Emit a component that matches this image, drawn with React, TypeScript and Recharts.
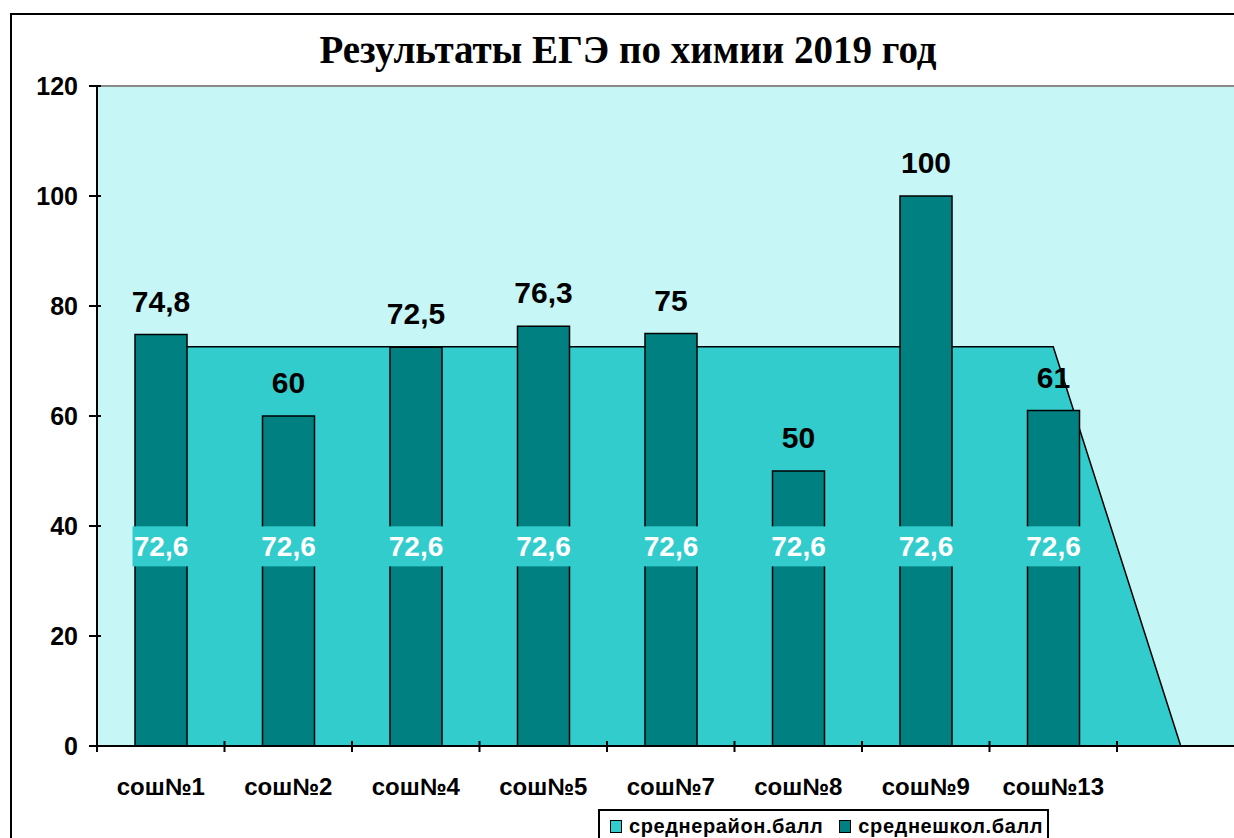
import { ComposedChart, Area, Bar, XAxis, YAxis, CartesianGrid, ReferenceLine, LabelList, Legend } from "recharts";

// categories (last one is the empty slot where the district area drops to 0)
const schools = ["сош№1", "сош№2", "сош№4", "сош№5", "сош№7", "сош№8", "сош№9", "сош№13", ""];
const schoolScores = [74.8, 60, 72.5, 76.3, 75, 50, 100, 61, null];
const districtScores = [72.6, 72.6, 72.6, 72.6, 72.6, 72.6, 72.6, 72.6, 0];
const yTicks = [0, 20, 40, 60, 80, 100, 120];
const seriesNames = ["среднерайон.балл", "среднешкол.балл"];

const data = schools.map((name, i) => ({
  name,
  school: schoolScores[i],
  district: districtScores[i],
}));

const PLOT_BG = "#c6f6f5";
const AREA_FILL = "#33cccc";
const BAR_FILL = "#008080";
const SANS = "'Liberation Sans', Arial, sans-serif";

const fmt = (v: any) => (v == null ? "" : String(v).replace(".", ","));

const XTick = (props: any) => {
  const { x, y, payload, index, visibleTicksCount } = props;
  const half = payload?.offset ?? 0;
  const last = index === visibleTicksCount - 1;
  return (
    <g>
      <line x1={x - half} x2={x - half} y1={y - 5} y2={y + 6} stroke="#000" strokeWidth={2} />
      {last && <line x1={x + half} x2={x + half} y1={y - 5} y2={y + 6} stroke="#000" strokeWidth={2} />}
      <text x={x} y={y + 49} textAnchor="middle" fontSize={24} fontWeight="bold" fontFamily={SANS} fill="#000">
        {payload.value}
      </text>
    </g>
  );
};

// tick mark crosses the axis a little, like the Excel original
const YTick = (props: any) => {
  const { x, y, payload } = props;
  return (
    <g>
      <line x1={x + 11} x2={x + 23} y1={y} y2={y} stroke="#000" strokeWidth={2} />
      <text x={x} y={y} dy="0.36em" textAnchor="end" fontSize={25} fontWeight="bold" fontFamily={SANS} fill="#000">
        {payload.value}
      </text>
    </g>
  );
};

// white value in a turquoise box, half way up the district area
const DistrictLabel = (props: any) => {
  const { viewBox, value } = props;
  if (!value || !viewBox) return null;
  const cx = viewBox.x + viewBox.width / 2;
  const cy = viewBox.y + viewBox.height / 2;
  return (
    <g>
      <rect x={cx - 28.5} y={cy - 20} width={57} height={40} fill={AREA_FILL} />
      <text x={cx} y={cy} dy="0.36em" textAnchor="middle" fill="#fff" fontSize={28} fontWeight="bold" fontFamily={SANS}>
        {fmt(value)}
      </text>
    </g>
  );
};

const LegendBox = () => (
  <div
    style={{
      display: "flex",
      alignItems: "center",
      border: "2px solid #000",
      background: "#fff",
      padding: "4px 4px 6px 10px",
      fontFamily: SANS,
      fontWeight: "bold",
      fontSize: 20,
      letterSpacing: 0.6,
      whiteSpace: "nowrap",
    }}
  >
    {seriesNames.map((n, i) => (
      <span key={n} style={{ display: "flex", alignItems: "center", marginRight: i === 0 ? 16 : 0 }}>
        <span
          style={{
            width: 10,
            height: 11,
            border: "1.5px solid #000",
            background: i === 0 ? AREA_FILL : BAR_FILL,
            marginRight: 7,
          }}
        />
        {n}
      </span>
    ))}
  </div>
);

export default function App() {
  return (
    <div style={{ position: "fixed", left: 0, top: 0, width: 1234, height: 838, overflow: "hidden", background: "#fff" }}>
      <div
        style={{
          position: "absolute",
          left: 10,
          top: 13,
          width: 1300,
          height: 900,
          border: "2px solid #000",
          background: "#fff",
        }}
      />
      <div
        style={{
          position: "absolute",
          left: 0,
          top: 27,
          width: 1256,
          textAlign: "center",
          fontFamily: "'Liberation Serif', 'Times New Roman', serif",
          fontWeight: "bold",
          fontSize: 39,
          lineHeight: "46px",
          color: "#000",
        }}
      >
        Результаты ЕГЭ по химии 2019 год
      </div>
      <div style={{ position: "absolute", left: 0, top: 0 }}>
        <ComposedChart
          width={1260}
          height={838}
          data={data}
          barGap={-52}
          margin={{ top: 86, right: 15.5, bottom: 42, left: 0 }}
        >
          <CartesianGrid horizontal={false} vertical={false} fill={PLOT_BG} />
          <ReferenceLine y={120} stroke="#8a8a8a" strokeWidth={2} />
          <XAxis
            dataKey="name"
            height={50}
            tick={<XTick />}
            tickLine={false}
            tickSize={0}
            tickMargin={0}
            interval={0}
            axisLine={{ stroke: "#000", strokeWidth: 2 }}
          />
          <YAxis
            width={97}
            domain={[0, 120]}
            ticks={yTicks}
            interval={0}
            tickSize={7}
            tickMargin={12}
            axisLine={{ stroke: "#000", strokeWidth: 2 }}
            tickLine={{ stroke: "#000", strokeWidth: 2 }}
            tick={<YTick />}
          />
          <Area
            type="linear"
            dataKey="district"
            name={seriesNames[0]}
            fill={AREA_FILL}
            fillOpacity={1}
            stroke="#000"
            strokeWidth={1.5}
            isAnimationActive={false}
          />
          <Bar
            dataKey="school"
            name={seriesNames[1]}
            barSize={52}
            fill={BAR_FILL}
            stroke="#000"
            strokeWidth={1.5}
            isAnimationActive={false}
          >
            <LabelList
              dataKey="school"
              position="top"
              offset={23}
              formatter={fmt}
              fill="#000"
              fontSize={30}
              fontWeight="bold"
              fontFamily={SANS}
            />
          </Bar>
          <Bar dataKey="district" barSize={52} fill="none" stroke="none" legendType="none" isAnimationActive={false}>
            <LabelList dataKey="district" content={DistrictLabel} />
          </Bar>
          <Legend
            layout="horizontal"
            verticalAlign="middle"
            align="center"
            content={<LegendBox />}
            wrapperStyle={{ left: 598, top: 809, width: "auto" }}
          />
        </ComposedChart>
      </div>
    </div>
  );
}
